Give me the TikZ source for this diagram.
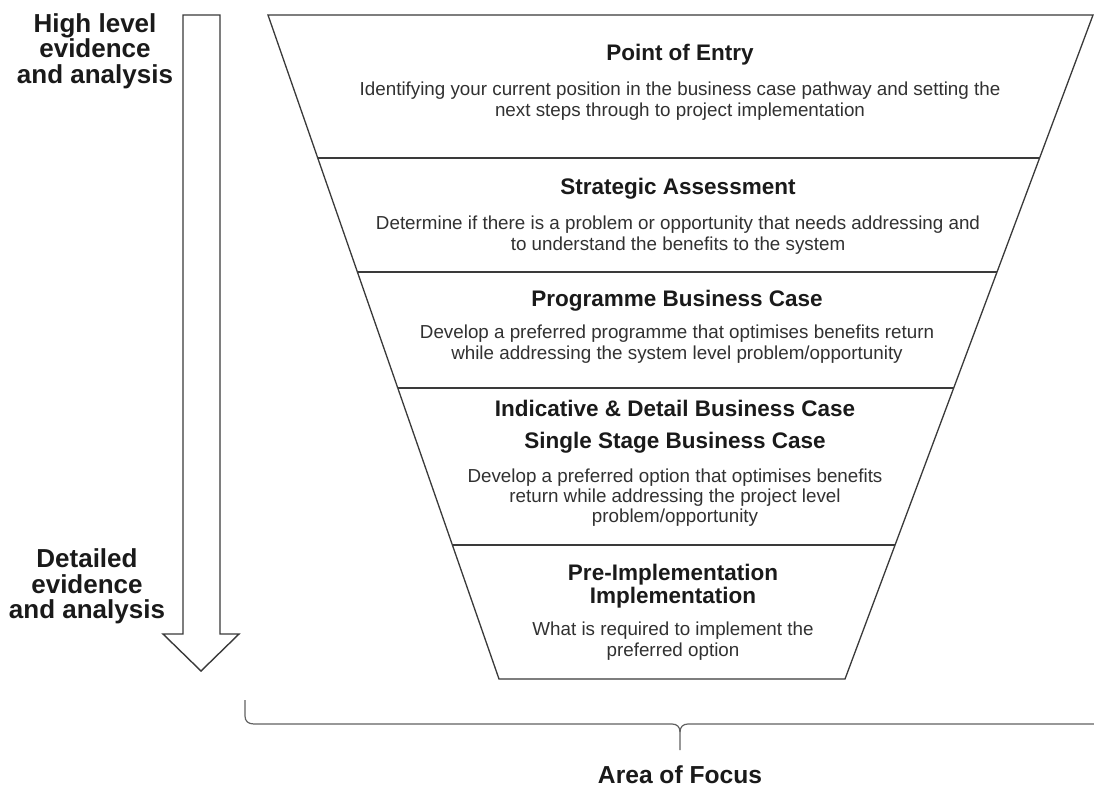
\documentclass[tikz,border=0pt]{standalone}
\usepackage{fontspec}
\setmainfont{Liberation Sans}
\usetikzlibrary{calc}
\definecolor{ink}{HTML}{1A1A1A}
\definecolor{edge}{HTML}{3A3A3A}
\begin{document}
\begin{tikzpicture}[x=1pt,y=-1pt,
  funnel/.style={draw=edge,line width=1.3pt,line join=miter},
  bigarrow/.style={draw=edge,line width=1.4pt,fill=white,line join=miter},
  bracket/.style={draw=edge!80,line width=1.2pt},
  lbl/.style={font=\fontsize{26}{26}\selectfont\bfseries,text=ink,anchor=base,inner sep=0pt},
  ttl/.style={font=\fontsize{22.5}{24}\selectfont\bfseries,text=ink,anchor=base,inner sep=0pt},
  bdy/.style={font=\fontsize{18.8}{21}\selectfont,text=ink!90,anchor=base,inner sep=0pt},
  focus/.style={font=\fontsize{24.6}{26}\selectfont\bfseries,text=ink,anchor=base,inner sep=0pt}]
\useasboundingbox[fill=white] (0,0) rectangle (1094,796);

% funnel
\coordinate (TL) at (268,15);
\coordinate (TR) at (1093,15);
\coordinate (BR) at (845,679);
\coordinate (BL) at (499,679);
\draw[funnel] (TL) -- (TR) -- (BR) -- (BL) -- cycle;
\foreach \t/\n in {0.2154/d1,0.3870/d2,0.5617/d3,0.7982/d4}{
  \coordinate (\n l) at ($(TL)!\t!(BL)$);
  \coordinate (\n r) at ($(TR)!\t!(BR)$);
  \draw[funnel] (\n l) -- (\n r);
}

% big down arrow
\coordinate (a1) at (183,15);
\coordinate (a2) at (220,15);
\coordinate (a3) at (220,634);
\coordinate (a4) at (239,634);
\coordinate (a5) at (201,671);
\coordinate (a6) at (163,634);
\coordinate (a7) at (183,634);
\draw[bigarrow] (a1) -- (a2) -- (a3) -- (a4) -- (a5) -- (a6) -- (a7) -- cycle;

% left labels
\node[lbl] (h1) at (95,32) {High level};
\node[lbl] (h2) at (95,57) {evidence};
\node[lbl] (h3) at (95,83) {and analysis};
\node[lbl] (l1) at (87,567) {Detailed};
\node[lbl] (l2) at (87,593) {evidence};
\node[lbl] (l3) at (87,618) {and analysis};

% section 1
\node[ttl] (s1t) at (680,60) {Point of Entry};
\node[bdy] (s1a) at (680,95) {Identifying your current position in the business case pathway and setting the};
\node[bdy] (s1b) at (680,116) {next steps through to project implementation};
% section 2
\node[ttl] (s2t) at (678,194) {Strategic Assessment};
\node[bdy] (s2a) at (678,229) {Determine if there is a problem or opportunity that needs addressing and};
\node[bdy] (s2b) at (678,250) {to understand the benefits to the system};
% section 3
\node[ttl] (s3t) at (677,306) {Programme Business Case};
\node[bdy] (s3a) at (677,338) {Develop a preferred programme that optimises benefits return};
\node[bdy] (s3b) at (677,359) {while addressing the system level problem/opportunity};
% section 4
\node[ttl] (s4t) at (675,416) {Indicative \& Detail Business Case};
\node[ttl] (s4u) at (675,448) {Single Stage Business Case};
\node[bdy] (s4a) at (675,482) {Develop a preferred option that optimises benefits};
\node[bdy] (s4b) at (675,502) {return while addressing the project level};
\node[bdy] (s4c) at (675,522) {problem/opportunity};
% section 5
\node[ttl] (s5t) at (673,580) {Pre-Implementation};
\node[ttl] (s5u) at (673,603) {Implementation};
\node[bdy] (s5a) at (673,635) {What is required to implement the};
\node[bdy] (s5b) at (673,656) {preferred option};

% bracket
\coordinate (b0) at (245,700);
\coordinate (b1) at (245,716);
\coordinate (b2) at (254,724);
\coordinate (b3) at (672,724);
\coordinate (b4) at (680,732);
\coordinate (b5) at (680,750);
\coordinate (b6) at (688,724);
\coordinate (b7) at (1094,724);
\draw[bracket] (b0) -- (b1) .. controls (245,721) and (248,724) .. (b2) -- (b3)
  .. controls (677,724) and (680,727) .. (b4) -- (b5);
\draw[bracket] (b4) .. controls (680,727) and (683,724) .. (b6) -- (b7);
\node[focus] (aof) at (680,783) {Area of Focus};
\end{tikzpicture}
\end{document}
